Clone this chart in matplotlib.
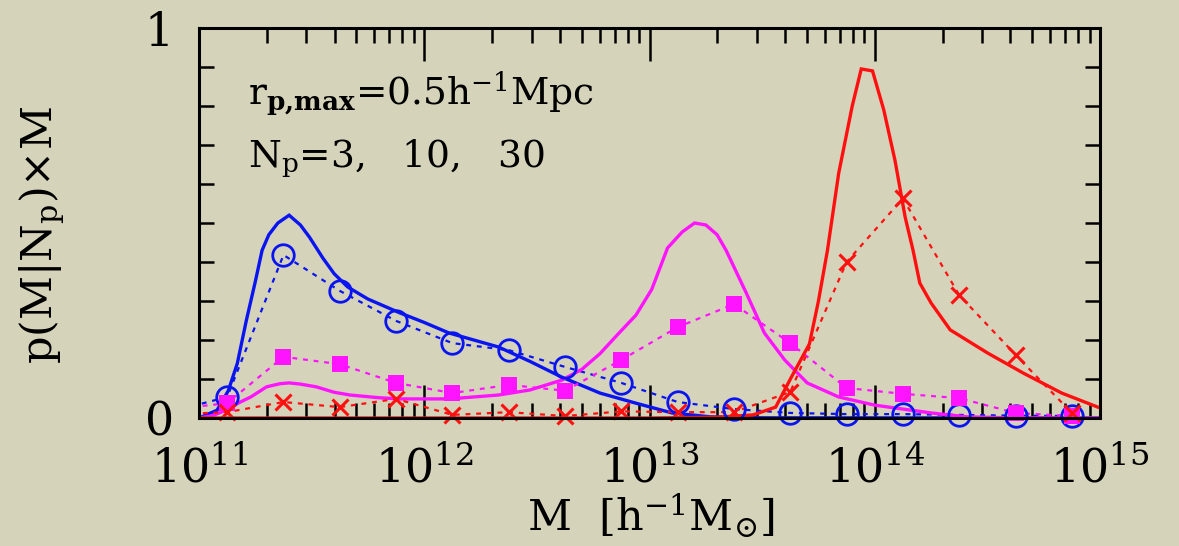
import numpy as np
import matplotlib
matplotlib.use("Agg")
import matplotlib.pyplot as plt
from matplotlib.ticker import FixedLocator, NullFormatter, FixedFormatter

plt.rcParams["font.family"] = ["DejaVu Serif"]
plt.rcParams["mathtext.fontset"] = "dejavuserif"

# ---- binned measurements (log10 of bin centre, p(M|Np) x M) ----
log_bins = [10.875, 11.125, 11.375, 11.625, 11.875, 12.125, 12.375, 12.625,
            12.875, 13.125, 13.375, 13.625, 13.875, 14.125, 14.375, 14.625, 14.875]
np3_points = [0.016, 0.054, 0.418, 0.326, 0.249, 0.192, 0.174, 0.131,
              0.090, 0.041, 0.023, 0.013, 0.010, 0.010, 0.008, 0.006, 0.005]
np10_points = [0.022, 0.038, 0.157, 0.138, 0.090, 0.064, 0.085, 0.070,
               0.149, 0.233, 0.292, 0.192, 0.077, 0.062, 0.051, 0.013, 0.005]
np30_points = [0.009, 0.015, 0.041, 0.028, 0.049, 0.008, 0.015, 0.005,
               0.017, 0.015, 0.015, 0.067, 0.400, 0.563, 0.315, 0.162, 0.013]

# ---- model curves ----
np3_model_logm = [11.00, 11.08, 11.13, 11.17, 11.21, 11.25, 11.28, 11.31, 11.35,
                  11.40, 11.45, 11.49, 11.55, 11.60, 11.66, 11.75, 11.89, 12.00,
                  12.11, 12.22, 12.33, 12.47, 12.61, 12.78, 12.94, 13.10, 13.27,
                  13.50, 15.00]
np3_model = [0.000, 0.020, 0.070, 0.140, 0.250, 0.350, 0.430, 0.470, 0.500,
             0.520, 0.495, 0.464, 0.410, 0.370, 0.336, 0.305, 0.270, 0.245,
             0.218, 0.200, 0.182, 0.145, 0.105, 0.064, 0.038, 0.013, 0.003,
             0.0005, 0.000]

np10_model_logm = [11.00, 11.06, 11.12, 11.18, 11.23, 11.30, 11.36, 11.40, 11.45,
                   11.52, 11.60, 11.67, 11.80, 11.89, 12.11, 12.33, 12.47, 12.61,
                   12.70, 12.78, 12.86, 12.94, 13.01, 13.08, 13.145, 13.20, 13.25,
                   13.30, 13.34, 13.43, 13.51, 13.60, 13.70, 13.84, 14.00, 14.25,
                   14.41, 14.60, 15.00]
np10_model = [0.000, 0.006, 0.020, 0.040, 0.054, 0.080, 0.088, 0.090, 0.087,
              0.080, 0.066, 0.059, 0.052, 0.049, 0.049, 0.059, 0.072, 0.097,
              0.125, 0.165, 0.215, 0.264, 0.330, 0.436, 0.477, 0.500, 0.495,
              0.470, 0.430, 0.320, 0.218, 0.149, 0.090, 0.054, 0.033, 0.013,
              0.003, 0.0005, 0.000]

np30_model_logm = [11.00, 13.00, 13.30, 13.46, 13.56, 13.63, 13.71, 13.75, 13.79,
                   13.84, 13.90, 13.94, 13.99, 14.04, 14.09, 14.135, 14.17, 14.20,
                   14.25, 14.335, 14.50, 14.66, 14.83, 14.99]
np30_model = [0.000, 0.000, 0.002, 0.008, 0.028, 0.105, 0.190, 0.300, 0.430,
              0.628, 0.800, 0.895, 0.890, 0.790, 0.660, 0.515, 0.430, 0.346,
              0.295, 0.226, 0.167, 0.115, 0.064, 0.028]

x_tick_labels = [r"$10^{11}$", r"$10^{12}$", r"$10^{13}$", r"$10^{14}$", r"$10^{15}$"]

BG = "#d5d3ba"
BLUE = "#0a14f0"
MAGENTA = "#ff14ff"
RED = "#ff1010"

fig = plt.figure(figsize=(11.79, 5.46), dpi=100, facecolor=BG)
ax = fig.add_axes([0.1688, 0.2344, 0.9330 - 0.1688, 0.9487 - 0.2344])
ax.set_facecolor("none")

ax.set_xscale("log")
ax.set_xlim(1e11, 1e15)
ax.set_ylim(0, 1)

bins = 10.0 ** np.array(log_bins)
inside = (bins > 1e11) & (bins < 1e15)
dots = (0, (2.2, 2.6))

series = [
    (np3_model_logm, np3_model, np3_points, BLUE,
     dict(marker="o", ms=15.5, mfc="none", mew=2.0)),
    (np10_model_logm, np10_model, np10_points, MAGENTA,
     dict(marker="s", ms=11, mfc=MAGENTA, mew=0)),
    (np30_model_logm, np30_model, np30_points, RED,
     dict(marker="x", ms=11, mew=2.2)),
]

for z, (mlog, mval, pts, col, mk) in enumerate(series):
    ax.plot(10.0 ** np.array(mlog), mval, color=col, lw=2.4, zorder=2 + z,
            solid_joinstyle="miter")
    ax.plot(bins, pts, color=col, lw=1.6, ls=dots, zorder=2 + z)
    ax.plot(bins[inside], np.array(pts)[inside], ls="none", color=col,
            mec=col, zorder=5 + z, clip_on=False, **mk)

# ticks
ax.xaxis.set_major_locator(FixedLocator([1e11, 1e12, 1e13, 1e14, 1e15]))
ax.xaxis.set_major_formatter(FixedFormatter(x_tick_labels))
minor = [m * 10.0 ** e for e in range(11, 15) for m in range(2, 10)]
ax.xaxis.set_minor_locator(FixedLocator(minor))
ax.xaxis.set_minor_formatter(NullFormatter())
ax.yaxis.set_major_locator(FixedLocator(np.linspace(0, 1, 11)))
ax.yaxis.set_major_formatter(FixedFormatter(["0"] + [""] * 9 + ["1"]))

ax.tick_params(axis="x", which="major", direction="in", length=24, width=1.8,
               top=True, bottom=True, labelsize=33, pad=21, colors="black")
ax.tick_params(axis="x", which="minor", direction="in", length=11, width=1.8,
               top=True, bottom=True)
ax.tick_params(axis="y", which="major", direction="in", length=10.5, width=1.8,
               left=True, right=True, labelsize=33, pad=18)
for sp in ax.spines.values():
    sp.set_linewidth(2.2)
    sp.set_zorder(10)

ax.set_xlabel(r"M  [h$^{-1}$M$_{\odot}$]", fontsize=31)
ax.xaxis.set_label_coords(0.5017, -0.19)
ax.set_ylabel(r"p(M|N$_{\rm p}$)$\times$M", fontsize=31)
ax.yaxis.set_label_coords(-0.146, 0.47)

ax.text(0.054, 0.805, r"r$_{\mathbf{p{,}max}}$=0.5h$^{-1}$Mpc", transform=ax.transAxes,
        fontsize=27, va="baseline", ha="left")
ax.text(0.054, 0.644, r"N$_{\rm p}$=3,   10,   30", transform=ax.transAxes,
        fontsize=27, va="baseline", ha="left")

fig.savefig("out.png", dpi=100, facecolor=BG)
